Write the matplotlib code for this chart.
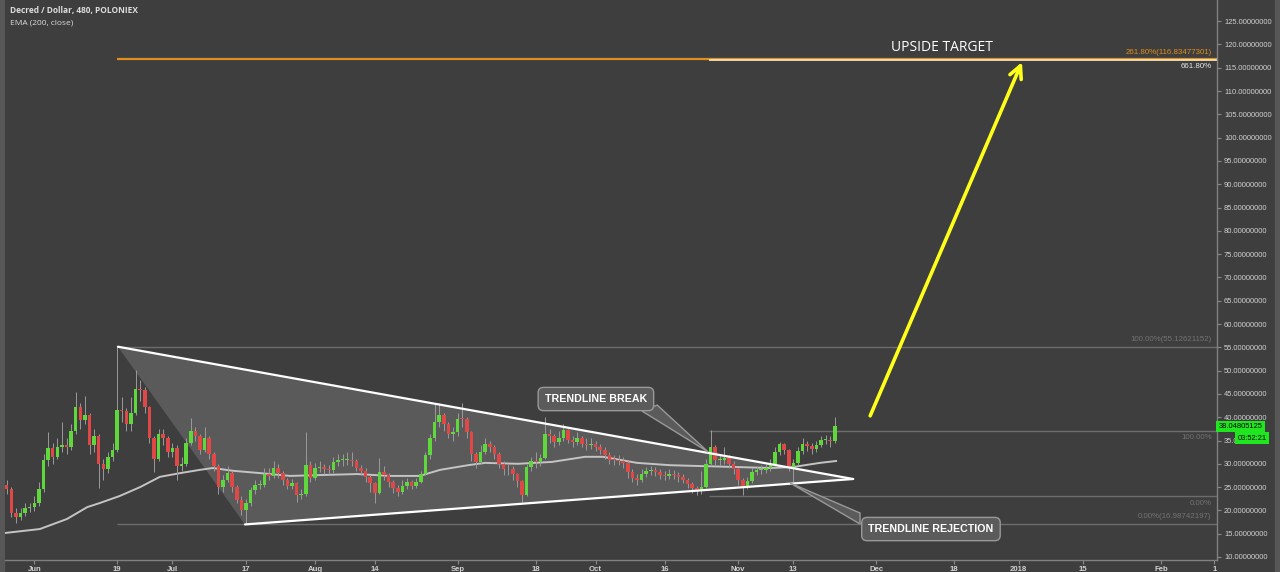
import matplotlib
matplotlib.use("Agg")
import matplotlib.pyplot as plt
import matplotlib.dates as mdates
from matplotlib.patches import Polygon, Rectangle
from matplotlib.ticker import FormatStrFormatter
import numpy as np
import pandas as pd

# ---------------- data ----------------
first_open = 25.5
closes = [24.5, 19.5, 18.6, 19.4, 20.5, 20.7,
          21.5, 24.5, 30.8, 33.4, 31.5, 33.6, 34.0, 33.5, 37.0, 42.2,
          39.4, 40.5, 34.0, 36.0, 30.0, 28.8, 31.5, 33.0, 41.5, 41.3,
          38.5, 41.0, 46.0, 45.8, 42.2, 35.5, 31.0, 36.5, 35.5, 32.5,
          33.4, 29.5, 30.0, 34.5, 37.0, 36.0, 33.0, 35.5, 32.0, 29.5,
          25.0, 26.5, 28.0, 25.0, 22.3, 20.0, 21.5, 24.4, 25.5, 25.5,
          27.8, 27.4, 29.2, 28.0, 26.6, 25.2, 25.8, 23.2, 23.6, 29.8,
          27.0, 29.2, 29.3, 28.8, 28.7, 30.4, 30.8, 30.8, 30.8, 30.5,
          29.2, 28.5, 27.1, 25.9, 23.8, 28.3, 27.5, 26.2, 24.7, 24.0,
          25.2, 26.0, 25.3, 26.2, 27.8, 31.8, 35.5, 39.0, 40.5, 38.6,
          36.5, 36.8, 39.7, 39.6, 36.8, 32.0, 30.4, 32.6, 34.2, 33.7,
          32.0, 30.0, 28.9, 28.8, 27.8, 26.4, 23.2, 29.3, 30.7, 30.3,
          31.2, 36.5, 35.9, 34.7, 35.5, 37.2, 35.2, 34.6, 35.6, 34.2,
          34.0, 34.3, 33.7, 32.9, 31.9, 30.9, 30.8, 30.7, 30.2, 28.2,
          27.0, 26.5, 27.8, 28.4, 28.6, 28.2, 27.6, 27.4, 27.9, 27.6,
          27.1, 26.6, 25.6, 24.8, 24.1, 25.0, 30.0, 33.5, 30.8, 30.9,
          31.2, 30.0, 28.8, 26.6, 25.1, 26.3, 28.2, 28.7, 28.7, 29.0,
          30.0, 32.5, 34.2, 33.0, 29.2, 30.2, 32.8, 34.3, 33.8, 33.1,
          34.0, 35.2, 35.2, 34.9, 38.05]
highs = [26.5, 25.0, 20.5, 20.6, 21.5, 21.6,
         23.0, 26.0, 32.0, 36.8, 34.5, 35.5, 39.0, 35.5, 38.5, 45.4,
         43.0, 44.5, 41.0, 37.5, 36.5, 31.0, 32.5, 34.5, 55.1, 44.3,
         42.0, 44.3, 50.1, 48.0, 46.5, 42.5, 36.0, 37.5, 37.5, 36.0,
         34.5, 34.0, 31.5, 35.5, 39.8, 38.0, 36.5, 37.9, 36.0, 32.5,
         30.0, 27.5, 29.5, 28.5, 25.5, 23.0, 22.5, 25.0, 26.5, 26.5,
         29.0, 29.0, 30.5, 30.0, 28.5, 27.0, 26.8, 26.0, 24.5, 36.8,
         30.5, 30.2, 30.5, 30.0, 29.8, 31.5, 32.0, 32.0, 32.5, 32.5,
         31.0, 29.8, 29.0, 27.5, 26.0, 31.3, 29.5, 28.0, 26.5, 25.5,
         26.5, 27.0, 26.5, 27.0, 28.5, 32.5, 36.5, 43.0, 43.0, 41.0,
         39.0, 38.0, 41.0, 43.0, 40.0, 37.0, 32.5, 34.0, 35.5, 35.0,
         34.0, 32.5, 30.5, 30.0, 29.5, 28.0, 26.5, 30.0, 31.5, 32.5,
         32.0, 40.0, 37.5, 36.5, 37.0, 38.5, 37.5, 36.0, 36.8, 36.0,
         35.5, 35.5, 35.0, 34.2, 33.5, 32.5, 31.8, 31.8, 31.5, 30.5,
         28.8, 27.8, 28.8, 29.3, 29.5, 29.3, 28.8, 28.5, 28.8, 28.7,
         28.3, 27.8, 27.0, 26.2, 25.2, 28.5, 31.0, 37.2, 34.0, 32.0,
         33.6, 31.8, 30.5, 29.0, 27.0, 27.2, 29.0, 29.6, 29.8, 30.0,
         31.0, 33.5, 34.7, 34.5, 33.2, 31.0, 33.5, 35.5, 35.0, 34.5,
         35.0, 36.0, 36.2, 36.0, 40.0]
lows = [23.5, 18.5, 17.3, 18.0, 18.9, 19.6,
        19.9, 21.0, 24.0, 29.5, 30.0, 31.0, 32.5, 32.0, 33.0, 36.5,
        37.5, 38.5, 32.0, 32.5, 24.8, 26.5, 28.0, 30.5, 32.5, 39.0,
        37.0, 37.0, 40.5, 43.5, 41.0, 34.5, 28.2, 30.5, 34.0, 31.5,
        31.5, 26.5, 28.5, 29.5, 34.0, 35.0, 32.0, 32.5, 31.0, 28.5,
        23.5, 24.0, 26.0, 24.0, 21.5, 19.0, 16.99, 21.0, 23.5, 24.5,
        25.0, 26.5, 27.0, 27.0, 25.5, 24.5, 24.5, 21.8, 22.5, 23.0,
        26.0, 26.5, 28.3, 27.8, 27.8, 28.0, 29.5, 29.5, 29.8, 29.5,
        28.5, 27.5, 26.0, 24.0, 21.6, 23.5, 26.5, 25.0, 23.8, 23.0,
        23.5, 24.5, 24.5, 24.8, 25.8, 27.5, 31.0, 35.0, 38.0, 37.0,
        35.5, 35.0, 36.0, 38.0, 35.5, 30.5, 29.0, 30.0, 32.0, 32.5,
        31.0, 29.0, 27.5, 27.5, 26.5, 25.0, 21.8, 23.0, 28.5, 29.0,
        29.5, 31.0, 34.5, 33.5, 34.0, 35.0, 34.5, 33.5, 34.0, 33.5,
        33.0, 33.2, 32.8, 32.0, 31.0, 30.0, 29.8, 29.8, 29.0, 27.0,
        26.0, 25.5, 26.0, 27.2, 27.5, 27.3, 26.8, 26.5, 26.8, 26.8,
        26.2, 25.8, 24.8, 23.8, 23.3, 23.5, 24.8, 29.5, 29.8, 29.8,
        30.0, 29.0, 27.8, 25.5, 23.3, 24.5, 25.8, 27.6, 27.8, 28.0,
        28.5, 29.8, 31.8, 32.0, 28.5, 26.1, 29.8, 32.2, 32.8, 32.0,
        32.5, 33.5, 34.2, 33.5, 34.5]
candle_dates = pd.date_range("2017-05-26", periods=len(closes), freq="D")

ema_dates = ["2017-05-25 14:00", "2017-06-02 05:00", "2017-06-08 02:00", "2017-06-12 12:00",
             "2017-06-15 07:00", "2017-06-19 14:00", "2017-06-24 00:00", "2017-06-28 07:00",
             "2017-07-02 17:00", "2017-07-07 00:00", "2017-07-09 19:00", "2017-07-14 05:00",
             "2017-07-20 02:00", "2017-07-26 14:00", "2017-08-02 19:00", "2017-08-10 05:00",
             "2017-08-17 07:00", "2017-08-23 19:00", "2017-08-28 05:00", "2017-09-03 07:00",
             "2017-09-07 00:00", "2017-09-14 02:00", "2017-09-21 12:00", "2017-09-28 17:00",
             "2017-10-02 14:00", "2017-10-10 00:00", "2017-10-17 05:00", "2017-10-24 10:00",
             "2017-10-31 19:00", "2017-11-07 22:00", "2017-11-12 22:00", "2017-11-18 19:00",
             "2017-11-22 07:00"]
ema_values = [15.15, 16.0, 18.15, 20.7, 21.6, 23.1, 25.0, 27.2, 28.0, 28.7, 29.1, 28.5,
              28.0, 27.4, 27.6, 27.8, 27.4, 27.4, 28.7, 29.7, 30.2, 30.0, 30.4, 31.5,
              31.5, 30.2, 29.7, 29.5, 29.3, 29.1, 29.3, 30.2, 30.6]

tick_dates = ["2017-06-01", "2017-06-19", "2017-07-01", "2017-07-17", "2017-08-01", "2017-08-14",
              "2017-09-01", "2017-09-18", "2017-10-01", "2017-10-16", "2017-11-01", "2017-11-13",
              "2017-12-01", "2017-12-18", "2018-01-01", "2018-01-15", "2018-02-01", "2018-02-12 12:00"]
tick_labels = ["Jun", "19", "Jul", "17", "Aug", "14", "Sep", "18", "Oct", "16", "Nov", "13",
               "Dec", "18", "2018", "15", "Feb", "1"]
price_ticks = list(range(10, 126, 5))

# triangle pattern
tri_dates = ["2017-06-19 04:00", "2017-07-16 19:00", "2017-11-26 00:00"]
tri_prices = [55.126, 16.987, 26.74]

# fibonacci tools
fib1_start = "2017-06-19 00:00"
fib1_prices = [16.98742197, 55.12621152, 116.83477301]
fib1_labels = ["0.00%(16.98742197)", "100.00%(55.12621152)", "261.80%(116.83477301)"]
fib2_start = "2017-10-25 16:00"
fib2_prices = [23.0, 37.1, 116.6]
fib2_labels = ["0.00%", "100.00%", "661.80%"]

# arrow and callouts
arrow_dates = ["2017-11-29 17:00", "2018-01-01 17:00"]
arrow_prices = [40.3, 116.2]
target_date, target_price = "2017-12-15 07:00", 119.4
break_box = ("2017-10-01 02:00", 43.9)
break_ptr_dates = ["2017-10-11 02:00", "2017-10-14 10:00", "2017-10-25 12:00"]
break_ptr_prices = [41.33, 42.6, 32.53]
rej_box = ("2017-12-12 22:00", 16.0)
rej_ptr_dates = ["2017-11-27 12:00", "2017-11-27 12:00", "2017-11-12 07:00"]
rej_ptr_prices = [19.44, 17.08, 25.88]

last_price = 38.04805125
countdown = "03:52:21"

# ---------------- style ----------------
BG = "#3e3e3e"
STRIP = "#575757"
UP = "#5fd83c"
DOWN = "#e04848"
WICK = "#9a9a9a"
AXC = "#d2d2d2"

def dn(s):
    return mdates.date2num(pd.to_datetime(s))

fig = plt.figure(figsize=(12.8, 5.72), dpi=100, facecolor=BG)
fig.add_artist(Rectangle((0, 0), 4 / 1280, 1, transform=fig.transFigure, color=STRIP, zorder=0))
fig.add_artist(Rectangle((1275 / 1280, 0), 5 / 1280, 1, transform=fig.transFigure, color=STRIP, zorder=0))
ax = fig.add_axes([5 / 1280, 12 / 572, 1212 / 1280, 560 / 572])
ax.set_facecolor(BG)

jun1 = dn("2017-06-01")
ax.set_xlim(jun1 - 6.37, jun1 + 257.1)
ax.set_ylim(9.356, 129.53)

# triangle fill and edges
tx = [dn(d) for d in tri_dates]
ax.add_patch(Polygon(list(zip(tx, tri_prices)), closed=True, fc="#5a5a5a", ec="none", zorder=1))
ax.plot([tx[0], tx[2]], [tri_prices[0], tri_prices[2]], color="white", lw=1.6, zorder=6, solid_capstyle="round")
ax.plot([tx[1], tx[2]], [tri_prices[1], tri_prices[2]], color="white", lw=1.6, zorder=6, solid_capstyle="round")

# fib lines
xr = ax.get_xlim()[1]
f1 = dn(fib1_start)
f2 = dn(fib2_start)
ax.hlines(fib1_prices[:2], f1, xr, color="#6c6c6c", lw=1.0, zorder=1.5)
ax.hlines(fib1_prices[2], f1, xr, color="#e08e1c", lw=1.6, zorder=1.6)
ax.hlines(fib2_prices[:2], f2, xr, color="#6c6c6c", lw=1.0, zorder=1.5)
ax.hlines(fib2_prices[2], f2, xr, color="#f2e2bc", lw=1.3, zorder=1.7)

yt = ax.get_yaxis_transform()
lab_kw = dict(transform=yt, ha="right", fontsize=5.7, family="Liberation Sans", zorder=8)
ax.text(0.9955, fib1_prices[0] + 0.9, fib1_labels[0], va="bottom", color="#727272", **lab_kw)
ax.text(0.9955, fib1_prices[1] + 0.9, fib1_labels[1], va="bottom", color="#727272", **lab_kw)
ax.text(0.9955, fib1_prices[2] + 0.7, fib1_labels[2], va="bottom", color="#e08e1c", **lab_kw)
ax.text(0.9955, fib2_prices[0] - 0.7, fib2_labels[0], va="top", color="#727272", **lab_kw)
ax.text(0.9955, fib2_prices[1] - 0.7, fib2_labels[1], va="top", color="#727272", **lab_kw)
ax.text(0.9955, fib2_prices[2] - 0.6, fib2_labels[2], va="top", color="#e6e6e6", **lab_kw)

# EMA
ax.plot([dn(d) for d in ema_dates], ema_values, color="#c4c4c4", lw=1.4, zorder=2.5)

# candles
c = np.array(closes)
o = np.array([first_open] + closes[:-1])
h = np.array(highs)
l = np.array(lows)
xc = mdates.date2num(candle_dates)
cols = np.where(c >= o, UP, DOWN)
ax.vlines(xc, l, h, color=WICK, lw=0.7, zorder=3)
ax.bar(xc, np.maximum(np.abs(c - o), 0.15), bottom=np.minimum(o, c), width=0.78,
       color=cols, linewidth=0, zorder=4)

# yellow arrow
ax.annotate("", xy=(dn(arrow_dates[1]), arrow_prices[1]), xytext=(dn(arrow_dates[0]), arrow_prices[0]),
            arrowprops=dict(arrowstyle="->", color="#ffff1a", lw=2.6, mutation_scale=22,
                            shrinkA=0, shrinkB=0), zorder=7)
ax.text(dn(target_date), target_price, "UPSIDE TARGET", color="white", fontsize=10,
        family="Open Sans", ha="center", va="center", zorder=8)

# callouts
box_kw = dict(boxstyle="round,pad=0.62,rounding_size=0.5", fc="#5b5b5b", ec="#999999", lw=1.0)
ax.add_patch(Polygon(list(zip([dn(d) for d in break_ptr_dates], break_ptr_prices)), closed=True,
                     fc="#5b5b5b", ec="#999999", lw=1.0, zorder=8))
ax.text(dn(break_box[0]), break_box[1], "TRENDLINE BREAK", color="white", fontsize=7.7,
        fontweight="bold", family="Liberation Sans", ha="center", va="center", bbox=box_kw, zorder=9)
ax.add_patch(Polygon(list(zip([dn(d) for d in rej_ptr_dates], rej_ptr_prices)), closed=True,
                     fc="#5b5b5b", ec="#999999", lw=1.0, zorder=8))
ax.text(dn(rej_box[0]), rej_box[1], "TRENDLINE REJECTION", color="white", fontsize=7.7,
        fontweight="bold", family="Liberation Sans", ha="center", va="center", bbox=box_kw, zorder=9)

# axes styling
for s in ["top", "left"]:
    ax.spines[s].set_visible(False)
for s in ["right", "bottom"]:
    ax.spines[s].set_color("#808080")
    ax.spines[s].set_linewidth(1.0)
ax.yaxis.tick_right()
ax.set_yticks(price_ticks)
ax.yaxis.set_major_formatter(FormatStrFormatter("%.8f"))
ax.tick_params(axis="y", colors="#8a8a8a", labelcolor=AXC, labelsize=5.4, length=3, width=0.8, pad=2)
ax.set_xticks([dn(d) for d in tick_dates])
ax.set_xticklabels(tick_labels)
ax.tick_params(axis="x", colors="#8a8a8a", labelcolor=AXC, labelsize=5.6, length=3, width=0.8, pad=1.5)
for t in ax.get_xticklabels() + ax.get_yticklabels():
    t.set_family("Liberation Sans")
for t in ax.get_xticklabels():
    t.set_fontweight("bold")

# last price tags
ax.text(1.0012, last_price, f"{last_price:.8f}", transform=yt, ha="left", va="center", fontsize=5.4,
        family="Liberation Sans", color="black", clip_on=False, zorder=10,
        bbox=dict(boxstyle="square,pad=0.3", fc="#1fe61f", ec="none"))
ax.text(1.0168, 35.5, countdown, transform=yt, ha="left", va="center", fontsize=5.4,
        family="Liberation Sans", color="black", clip_on=False, zorder=10,
        bbox=dict(boxstyle="square,pad=0.3", fc="#1fe61f", ec="none"))

# header
fig.text(10 / 1280, 1 - 11 / 572, "Decred / Dollar, 480, POLONIEX", color="#dcdcdc", fontsize=6.0,
         fontweight="bold", family="Open Sans", ha="left", va="center")
fig.text(10 / 1280, 1 - 23 / 572, "EMA (200, close)", color="#dcdcdc", fontsize=6.0,
         family="Open Sans", ha="left", va="center")

fig.savefig("out.png", dpi=100, facecolor=BG)
